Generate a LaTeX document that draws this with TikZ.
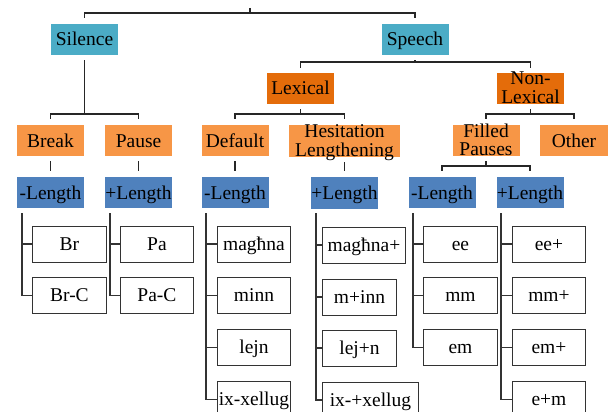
\documentclass[tikz,border=0pt]{standalone}
\usepackage{fontspec}
\setmainfont{Liberation Serif}

\definecolor{majorcol}{RGB}{75,172,198}
\definecolor{subcol}{RGB}{228,108,10}
\definecolor{kindcol}{RGB}{247,150,70}
\definecolor{lencol}{RGB}{79,129,189}

\newcommand{\twolines}[2]{\raisebox{10pt}{\begin{tabular}[t]{@{}c@{}}#1\\#2\end{tabular}}}

\begin{document}
\begin{tikzpicture}
			[
				x=1pt, y=-1pt,
				font=\fontsize{19.5}{18}\selectfont,
				box/.style={inner sep=0pt, minimum height=31pt, minimum width=67pt, text height=13pt, text depth=0pt},
				major/.style={box, fill=majorcol},
				sub/.style={box, fill=subcol},
				kind/.style={box, fill=kindcol},
				len/.style={box, fill=lencol},
				leaf/.style={draw=black!80, line width=0.9pt, anchor=west, inner sep=0pt, minimum height=36pt, minimum width=74pt, text height=12pt, text depth=0pt},
				conn/.style={draw=black!85, line width=1.1pt},
				leafline/.style={draw=black!80, line width=1.1pt}
			]

			\clip (0,0) rectangle (608,412);

			% top level
			\node[major] (silence) at (  84.5, 39.5 ) {Silence};
			\node[major] (speech)  at ( 415.0, 39.5 ) {Speech};

			% speech classes
			\node[sub] (lexical) at ( 300.5, 88.5 ) {Lexical};
			\node[sub] (nonlex)  at ( 530.5, 88.5 ) {\twolines{Non-}{Lexical}};

			% categories
			\node[kind] (break)   at (  50.5, 140.5 ) {Break};
			\node[kind] (pause)   at ( 138.5, 140.5 ) {Pause};
			\node[kind] (default) at ( 235.0, 140.5 ) {Default};
			\node[kind, minimum width=111pt, minimum height=32pt] (hesit) at ( 344.5, 141.0 ) {\twolines{Hesitation}{Lengthening}};
			\node[kind] (filled)  at ( 486.0, 140.5 ) {\twolines{Filled}{Pauses}};
			\node[kind, minimum width=68pt] (other) at ( 574.0, 140.5 ) {Other};

			% length boxes
			\node[len] (lbr)  at (  50.5, 192.5 ) {-Length};
			\node[len] (lpa)  at ( 138.5, 192.5 ) {+Length};
			\node[len] (ldef) at ( 235.0, 192.5 ) {-Length};
			\node[len, minimum height=32pt] (lhes) at ( 344.5, 193.0 ) {+Length};
			\node[len] (lfpm) at ( 442.0, 192.5 ) {-Length};
			\node[len] (lfpp) at ( 530.0, 192.5 ) {+Length};

			% examples
			\node[leaf] (br)     at (  32, 244.0 ) {Br};
			\node[leaf] (brc)    at (  32, 295.5 ) {Br-C};
			\node[leaf, minimum width=73pt] (pa)     at ( 120, 244.0 ) {Pa};
			\node[leaf, minimum width=73pt] (pac)    at ( 120, 295.5 ) {Pa-C};
			\node[leaf, minimum width=73pt] (maghna) at ( 217, 244.0 ) {magħna};
			\node[leaf, minimum width=73pt] (minn)   at ( 217, 295.5 ) {minn};
			\node[leaf, minimum width=73pt] (lejn)   at ( 217, 347.5 ) {lejn};
			\node[leaf, minimum width=73pt] (xell)   at ( 217, 399.5 ) {ix-xellug};
			\node[leaf, minimum width=83pt] (maghnap) at ( 322, 245.0 ) {magħna+};
			\node[leaf] (minnp)  at ( 322, 297.0 ) {m+inn};
			\node[leaf] (lejnp)  at ( 322, 348.0 ) {lej+n};
			\node[leaf, minimum width=96pt] (xellp)  at ( 322, 400.0 ) {ix-+xellug};
			\node[leaf] (ee)     at ( 423, 244.0 ) {ee};
			\node[leaf] (mm)     at ( 423, 295.5 ) {mm};
			\node[leaf] (em)     at ( 423, 347.5 ) {em};
			\node[leaf, minimum width=73pt] (eep)    at ( 512, 244.0 ) {ee+};
			\node[leaf, minimum width=73pt] (mmp)    at ( 512, 295.5 ) {mm+};
			\node[leaf, minimum width=73pt] (emp)    at ( 512, 347.5 ) {em+};
			\node[leaf, minimum width=73pt] (emm)    at ( 512, 399.5 ) {e+m};

			% junctions
			\coordinate (root)  at ( 250.0,   8 );
			\coordinate (rootj) at ( 250.0,  13 );
			\coordinate (silj)  at (  84.5, 114 );
			\coordinate (spj)   at ( 415.0,  62 );
			\coordinate (lexj)  at ( 300.5, 114 );
			\coordinate (nlj)   at ( 530.5, 114 );
			\coordinate (fpj)   at ( 486.0, 166 );
			\coordinate (cbr)   at (  22, 213 );
			\coordinate (cpa)   at ( 110, 213 );
			\coordinate (cdef)  at ( 206, 213 );
			\coordinate (ches)  at ( 316, 213 );
			\coordinate (cfpm)  at ( 413, 213 );
			\coordinate (cfpp)  at ( 501, 213 );

			% tree lines
			\draw[conn] (root) -- (rootj);
			\draw[conn, shorten <=6pt, shorten >=6pt] (silence) |- (rootj) -| (speech);

			\foreach \from/\to in {silence/silj,speech/spj,lexical/lexj,nonlex/nlj,filled/fpj}
			\draw[conn, shorten <=5pt] (\from) -- (\to);

			\foreach \left/\mid/\right in {break/silj/pause,default/lexj/hesit,filled/nlj/other,lfpm/fpj/lfpp}
			\draw[conn, shorten <=6pt, shorten >=6pt] (\left) |- (\mid) -| (\right);
			\draw[conn, shorten <=5pt, shorten >=5pt] (lexical) |- (spj) -| (nonlex);

			\foreach \from/\to in {break/lbr,pause/lpa,default/ldef,hesit/lhes}
			\draw[conn, shorten <=5pt, shorten >=6pt] (\from) -- (\to);

			% example lines
			\foreach \col/\ex in {cbr/br,cbr/brc,cpa/pa,cpa/pac,cdef/maghna,cdef/minn,cdef/lejn,cdef/xell,ches/maghnap,ches/minnp,ches/lejnp,ches/xellp,cfpm/ee,cfpm/mm,cfpm/em,cfpp/eep,cfpp/mmp,cfpp/emp,cfpp/emm}
			\draw[leafline] (\col) |- (\ex.west);

		\end{tikzpicture}
\end{document}
